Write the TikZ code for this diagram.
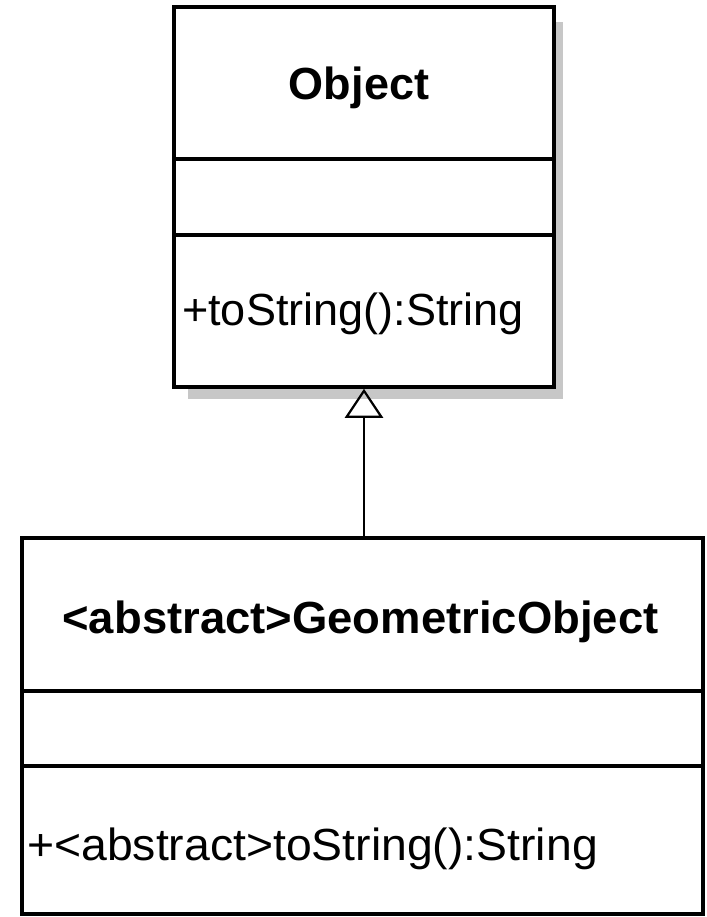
\documentclass[tikz,border=0pt]{standalone}
\usepackage{fontspec}
\usepackage{graphicx}
\setmainfont{Liberation Sans}
\usetikzlibrary{arrows.meta}
\begin{document}
\begin{tikzpicture}[x=1pt,y=-1pt,
  umlbox/.style={draw=black, line width=3.5pt, fill=white, inner sep=0pt},
  divider/.style={draw=black, line width=3.2pt},
  shadowbox/.style={fill=black!22, draw=none},
  umltxt/.style={inner sep=0pt, font=\fontsize{45}{54}\selectfont},
  umltitle/.style={umltxt, font=\fontsize{45}{54}\selectfont\bfseries},
  inherit/.style={draw=black, line width=2.8pt, -{Triangle[open, length=29pt, width=38pt, line width=2.2pt]}}
]
\useasboundingbox (0,0) rectangle (706,917);
\fill[white] (0,0) rectangle (706,917);
% shadow of Object box
\fill[shadowbox] (188,22) rectangle (563,399);
% Object class box
\node[umlbox, minimum width=380pt, minimum height=380pt] (obj) at (364,197) {};
\draw[divider] (obj.west |- 0,159) -- (obj.east |- 0,159);
\draw[divider] (obj.west |- 0,235) -- (obj.east |- 0,235);
\node[umltitle, anchor=base] (objname) at (359,100) {Object};
\node[umltxt, anchor=base west] (objop) at (182,325) {+toString():String};
% GeometricObject class box
\node[umlbox, minimum width=681pt, minimum height=376pt] (geo) at (362.5,726) {};
\draw[divider] (geo.west |- 0,691) -- (geo.east |- 0,691);
\draw[divider] (geo.west |- 0,766) -- (geo.east |- 0,766);
\node[umltitle, anchor=base] (geoname) at (360.5,633) {\scalebox{1.01}[1]{<abstract>GeometricObject}};
\node[umltxt, anchor=base west] (geoop) at (27,860) {\scalebox{1.03}[1]{+<abstract>toString():String}};
% generalization
\coordinate (geotop) at (obj.south |- geo.north);
\draw[inherit] (geotop) -- (obj.south);
\end{tikzpicture}
\end{document}
